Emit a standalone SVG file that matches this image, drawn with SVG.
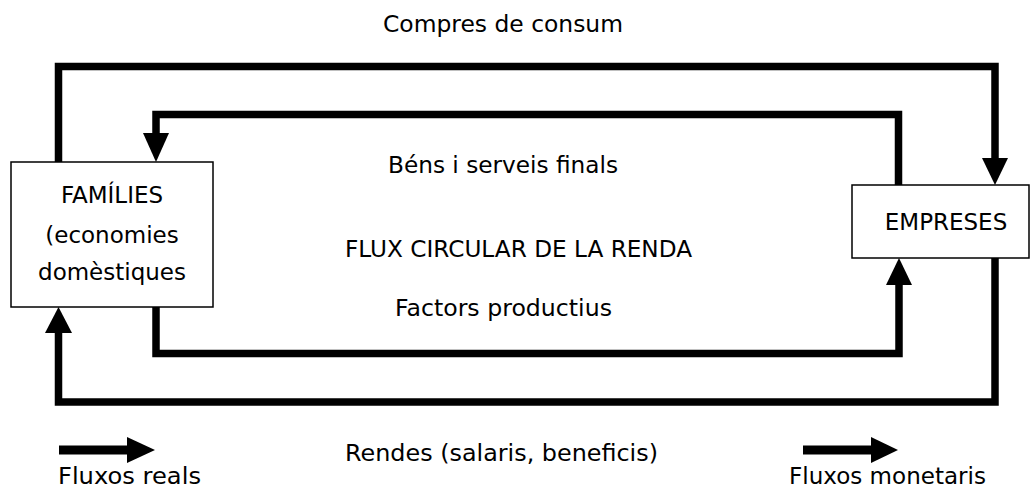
<svg xmlns="http://www.w3.org/2000/svg" width="1031" height="488" viewBox="0 0 1031 488">
  <style>
    .t { font-family: "DejaVu Sans", "Liberation Sans", sans-serif; font-size: 23px; fill: #000; }
    .m { text-anchor: middle; }
    .box { fill: #fff; stroke: #000; stroke-width: 1.5; }
    .flow { fill: none; stroke: #000; stroke-width: 7.5; stroke-linejoin: miter; stroke-linecap: butt; }
    .head { fill: #000; }
  </style>
  <rect width="1031" height="488" fill="#fff"/>
  <g id="connectors">
    <path class="flow" d="M58.5,162 V66.5 H995 V159"/>
    <polygon class="head" points="982,158 1008,158 995,185"/>
    <path class="flow" d="M898.5,185 V114.5 H156 V134"/>
    <polygon class="head" points="143,133 169,133 156,162"/>
    <path class="flow" d="M156,307 V353.5 H899 V284"/>
    <polygon class="head" points="886,285 912,285 899,258"/>
    <path class="flow" d="M995,258 V402 H58.5 V332"/>
    <polygon class="head" points="45,333 72,333 58.5,307"/>
  </g>
  <g id="familes">
    <rect class="box" x="11" y="162" width="202" height="145"/>
    <text class="t m" x="112" y="203">FAMÍLIES</text>
    <text class="t m" x="112" y="243">(economies</text>
    <text class="t m" x="112" y="280">domèstiques</text>
  </g>
  <g id="empreses">
    <rect class="box" x="852" y="185" width="177" height="73"/>
    <text class="t m" x="946" y="230">EMPRESES</text>
  </g>
  <g id="labels">
    <text class="t" x="383" y="32" textLength="240" lengthAdjust="spacingAndGlyphs">Compres de consum</text>
    <text class="t" x="388" y="173" textLength="230" lengthAdjust="spacingAndGlyphs">Béns i serveis finals</text>
    <text class="t" x="345" y="257" textLength="347" lengthAdjust="spacingAndGlyphs">FLUX CIRCULAR DE LA RENDA</text>
    <text class="t" x="395" y="316" textLength="217" lengthAdjust="spacingAndGlyphs">Factors productius</text>
    <text class="t" x="345" y="461" textLength="313" lengthAdjust="spacingAndGlyphs">Rendes (salaris, beneficis)</text>
  </g>
  <g id="legend-real">
    <path class="flow" d="M59,450 H128" style="stroke-width:9"/>
    <polygon class="head" points="127,437 127,463 155,450"/>
    <text class="t" x="58" y="484" textLength="143" lengthAdjust="spacingAndGlyphs">Fluxos reals</text>
  </g>
  <g id="legend-monetary">
    <path class="flow" d="M803,450 H872" style="stroke-width:9"/>
    <polygon class="head" points="871,437 871,463 898,450"/>
    <text class="t" x="789" y="484" textLength="197" lengthAdjust="spacingAndGlyphs">Fluxos monetaris</text>
  </g>
</svg>
